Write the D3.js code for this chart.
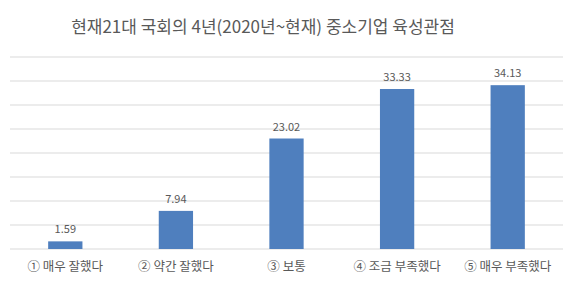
<!DOCTYPE html>
<html>
<head>
<meta charset="utf-8">
<script src="https://cdn.jsdelivr.net/npm/d3@7"></script>
<style>
  body { margin: 0; background: #fff; }
  text { font-family: "Noto Sans CJK KR", "Noto Sans", sans-serif; }
</style>
</head>
<body>
<div id="chart"></div>
<script>
// chart data
var categories = ["① 매우 잘했다", "② 약간 잘했다", "③ 보통", "④ 조금 부족했다", "⑤ 매우 부족했다"];
var values = [1.59, 7.94, 23.02, 33.33, 34.13];
var yTicks = [0, 5, 10, 15, 20, 25, 30, 35, 40];
var title = "현재21대 국회의 4년(2020년~현재) 중소기업 육성관점";

var W = 577, H = 287;
var margin = {top: 57, right: 14, bottom: 38, left: 10},
    width = W - margin.left - margin.right,
    height = H - margin.top - margin.bottom;

var svg = d3.select("#chart")
  .append("svg")
    .attr("width", W)
    .attr("height", H);

svg.append("text")
  .attr("x", 263)
  .attr("y", 33)
  .attr("text-anchor", "middle")
  .attr("font-size", "17px")
  .attr("fill", "#595959")
  .text(title);

var g = svg.append("g")
  .attr("transform", "translate(" + margin.left + "," + margin.top + ")");

var x = d3.scaleBand()
  .domain(categories)
  .range([0, width])
  .paddingInner(0.69)
  .paddingOuter(0.345);

var y = d3.scaleLinear()
  .domain([0, 40])
  .range([height, 0]);

// gridlines
g.append("g")
  .selectAll("line")
  .data(yTicks)
  .enter().append("line")
    .attr("x1", 0)
    .attr("x2", width)
    .attr("y1", function(d) { return y(d); })
    .attr("y2", function(d) { return y(d); })
    .attr("stroke", "#d9d9d9")
    .attr("stroke-width", 1);

// bars
g.append("g")
  .selectAll("rect")
  .data(values)
  .enter().append("rect")
    .attr("x", function(d, i) { return x(categories[i]); })
    .attr("width", x.bandwidth())
    .attr("y", function(d) { return y(d); })
    .attr("height", function(d) { return height - y(d); })
    .attr("fill", "#4f7fbe");

// value labels
g.append("g")
  .selectAll("text")
  .data(values)
  .enter().append("text")
    .attr("x", function(d, i) { return x(categories[i]) + x.bandwidth() / 2; })
    .attr("y", function(d) { return y(d) - 8; })
    .attr("text-anchor", "middle")
    .attr("font-size", "11px")
    .attr("fill", "#595959")
    .text(function(d) { return d.toFixed(2); });

// x axis labels
var xAxis = g.append("g")
  .attr("transform", "translate(0," + height + ")")
  .call(d3.axisBottom(x).tickSize(0).tickPadding(13));
xAxis.select(".domain").remove();
xAxis.selectAll("text")
  .attr("font-size", "12.5px")
  .attr("font-family", "'Noto Sans CJK KR', sans-serif")
  .attr("fill", "#595959");
</script>
</body>
</html>
